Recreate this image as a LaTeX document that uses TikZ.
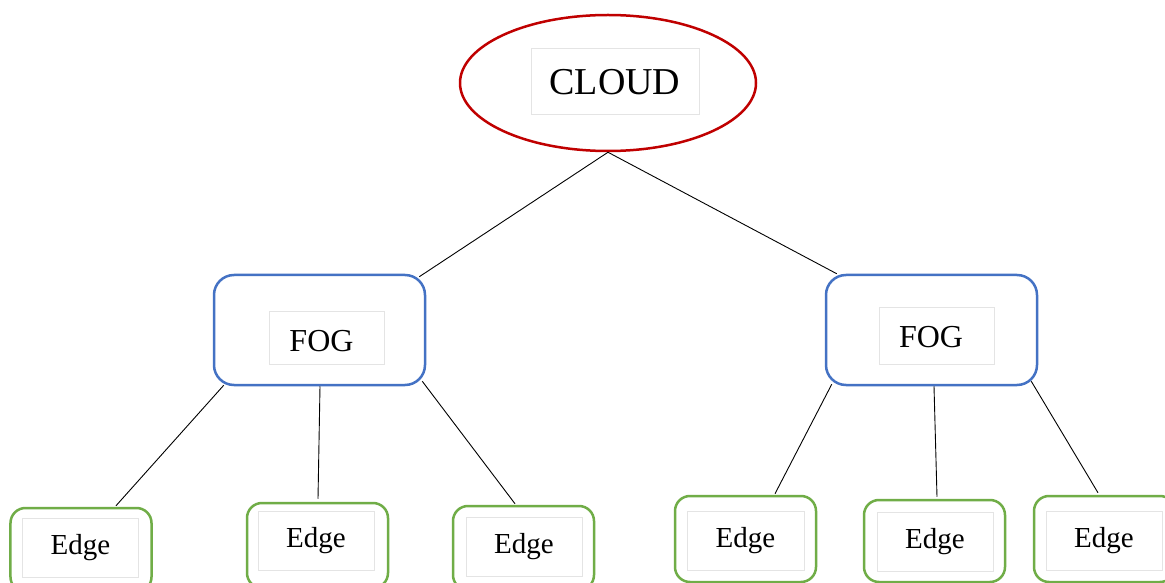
\documentclass[tikz,border=0pt]{standalone}
\usepackage{fontspec}
\setmainfont{Liberation Serif}
\usetikzlibrary{shapes.geometric,calc}
\definecolor{cloudred}{HTML}{C00000}
\definecolor{fogblue}{HTML}{4472C4}
\definecolor{edgegreen}{HTML}{70AD47}
\definecolor{boxgray}{HTML}{E4E4E4}
\tikzset{
  cloudshape/.style={ellipse, draw=cloudred, line width=2.5bp, minimum width=296bp, minimum height=136bp, inner sep=0pt},
  fogbox/.style={rectangle, rounded corners=20bp, draw=fogblue, line width=2.5bp, minimum width=211bp, minimum height=110bp, inner sep=0pt},
  edgebox/.style={rectangle, rounded corners=15bp, draw=edgegreen, line width=2.5bp, minimum width=141bp, inner sep=0pt},
  txtbox/.style={rectangle, draw=boxgray, line width=1bp, inner sep=0pt},
  plaintxt/.style={inner sep=0pt},
  link/.style={draw=black, line width=0.9bp},
  cloudfont/.style={font=\fontsize{38bp}{42bp}\selectfont},
  fogfont/.style={font=\fontsize{32bp}{36bp}\selectfont},
  edgefont/.style={font=\fontsize{29bp}{33bp}\selectfont}
}
\begin{document}
\begin{tikzpicture}[x=1bp,y=-1bp]
\useasboundingbox (0,0) rectangle (1165,583);
\fill[white] (0,0) rectangle (1165,583);
\clip (0,0) rectangle (1165,583);

% cloud
\node[cloudshape] (cloud) at (608,83) {};
\node[txtbox, cloudfont, minimum width=168bp, minimum height=66bp] (cloudtxt) at (615,82) {CLOUD};

% fog nodes
\node[fogbox] (fogL) at (319.5,330) {};
\node[txtbox, minimum width=115bp, minimum height=52bp] (fogLbox) at (326.5,338) {};
\node[plaintxt, fogfont] (fogLtxt) at (321.5,341.5) {FOG};

\node[fogbox] (fogR) at (931.5,330) {};
\node[txtbox, minimum width=115bp, minimum height=56bp] (fogRbox) at (936.5,336) {};
\node[plaintxt, fogfont] (fogRtxt) at (931,337.5) {FOG};

% edge nodes
\node[edgebox, minimum height=84bp] (e1) at (81,550) {};
\node[edgebox, minimum height=85bp] (e2) at (317.5,545.5) {};
\node[edgebox, minimum height=84bp] (e3) at (523.5,548) {};
\node[edgebox, minimum height=86bp] (e4) at (745.5,539) {};
\node[edgebox, minimum height=82bp] (e5) at (934.5,541) {};
\node[edgebox, minimum height=86bp] (e6) at (1104.5,539) {};

\node[txtbox, edgefont, minimum width=115bp, minimum height=59bp] (t1) at (80.5,547.5) {Edge};
\node[txtbox, edgefont, minimum width=116bp, minimum height=59bp] (t2) at (316,540.5) {Edge};
\node[txtbox, edgefont, minimum width=116bp, minimum height=59bp] (t3) at (524,546.5) {Edge};
\node[txtbox, edgefont, minimum width=117bp, minimum height=59bp] (t4) at (745.5,540.5) {Edge};
\node[txtbox, edgefont, minimum width=116bp, minimum height=59bp] (t5) at (935,541.5) {Edge};
\node[txtbox, edgefont, minimum width=116bp, minimum height=59bp] (t6) at (1104,540.5) {Edge};

% connectors
\draw[link] (cloud.south) -- ($(fogL.north east)+(-7,3)$);
\draw[link] (cloud.south) -- ($(fogR.north west)+(12,0)$);

\draw[link] ($(fogL.south west)+(11,-1)$) -- ($(e1.north)+(35,-1)$);
\draw[link] ($(fogL.south)+(0.5,0)$) -- ($(e2.north)+(0.5,-3)$);
\draw[link] ($(fogL.south east)+(-4,-5)$) -- ($(e3.north)+(-8.5,-1)$);

\draw[link] ($(fogR.south west)+(7,-2)$) -- ($(e4.north)+(29.5,-1)$);
\draw[link] ($(fogR.south)+(2.5,0)$) -- ($(e5.north)+(2.5,-2)$);
\draw[link] ($(fogR.south east)+(-7,-5)$) -- ($(e6.north)+(-6.5,-2)$);
\end{tikzpicture}
\end{document}
